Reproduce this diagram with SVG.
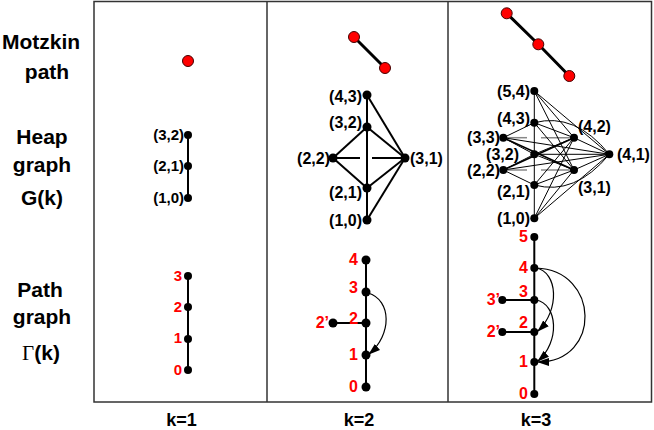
<svg xmlns="http://www.w3.org/2000/svg" width="654" height="430" viewBox="0 0 654 430">
<defs>
<style>
.lbl{font-family:"Liberation Sans",Arial,sans-serif;font-weight:bold;font-size:21px;fill:#000;text-anchor:middle}
.kl{font-family:"Liberation Sans",Arial,sans-serif;font-weight:bold;font-size:18px;fill:#000;text-anchor:middle}
.hl{font-family:"Liberation Sans",Arial,sans-serif;font-weight:bold;font-size:16px;fill:#000}
.hl1{font-family:"Liberation Sans",Arial,sans-serif;font-weight:bold;font-size:15px;fill:#000;text-anchor:end}
.rl{font-family:"Liberation Sans",Arial,sans-serif;font-weight:bold;font-size:16px;fill:#f00;text-anchor:end}
.rl1{font-family:"Liberation Sans",Arial,sans-serif;font-weight:bold;font-size:15px;fill:#f00;text-anchor:end}
.end{text-anchor:end}
.nd{fill:#000}
.rd{fill:#f00;stroke:#400;stroke-width:1}
.e2{stroke:#000;stroke-width:2;fill:none}
.e3{stroke:#000;stroke-width:1;fill:none}
.ex{stroke:#000;stroke-width:1.6;fill:none}
.eg{stroke:#888;stroke-width:1.5;fill:none}
.mp{stroke:#000;stroke-width:3;fill:none}
.arc{stroke:#000;stroke-width:1.2;fill:none;marker-end:url(#ah)}
</style>
<marker id="ah" markerWidth="12" markerHeight="8" refX="11" refY="4" orient="auto" markerUnits="userSpaceOnUse">
<path d="M0,0 L12,4 L0,8 Z" fill="#000"/>
</marker>
</defs>
<rect width="654" height="430" fill="#fff"/>
<g id="frame" fill="none" stroke="#333" stroke-width="1.5">
<rect x="94" y="1.5" width="557.5" height="400.5"/>
<line x1="267" y1="1.5" x2="267" y2="402"/>
<line x1="448" y1="1.5" x2="448" y2="402"/>
</g>
<g id="row-labels">
<text class="lbl" x="41" y="49">Motzkin</text>
<text class="lbl" x="47" y="79">path</text>
<text class="lbl" x="42" y="144">Heap</text>
<text class="lbl" x="42" y="172">graph</text>
<text class="lbl" x="42" y="205">G(k)</text>
<text class="lbl" x="40" y="297">Path</text>
<text class="lbl" x="42" y="324">graph</text>
<text class="lbl" x="41" y="360"><tspan font-family="Liberation Serif,serif" font-weight="normal">Γ</tspan>(k)</text>
</g>
<g id="col-labels">
<text class="kl" x="181.5" y="426">k=1</text>
<text class="kl" x="359" y="426">k=2</text>
<text class="kl" x="536" y="426">k=3</text>
</g>
<g id="connectors">
<line class="mp" x1="354" y1="37" x2="385" y2="68"/>
<polyline class="mp" points="506.7,13.3 538.3,44.3 569.3,76"/>
<line class="e2" x1="188" y1="135" x2="188" y2="198"/>
<line class="e2" x1="188" y1="276" x2="188" y2="370"/>
<line class="e2" x1="367" y1="95" x2="367" y2="220"/>
<line class="e2" x1="367" y1="95" x2="405" y2="158"/>
<line class="e2" x1="367" y1="127" x2="405" y2="158"/>
<line class="e2" x1="367" y1="188" x2="405" y2="158"/>
<line class="e2" x1="367" y1="220" x2="405" y2="158"/>
<line class="e2" x1="333" y1="158" x2="367" y2="127"/>
<line class="e2" x1="333" y1="158" x2="367" y2="188"/>
<line class="e2" x1="333" y1="158" x2="360" y2="158"/>
<line class="e2" x1="372" y1="158" x2="405" y2="158"/>
<line class="e2" x1="366" y1="260" x2="366" y2="387"/>
<line class="e2" x1="333" y1="323" x2="366" y2="323"/>
<path class="arc" d="M368,293 C392,300 392,335 369,354"/>
<line class="e3" x1="534.3" y1="91" x2="534.3" y2="218.3"/>
<line class="eg" x1="503.3" y1="137.7" x2="527" y2="137.7"/>
<line class="eg" x1="541" y1="137.7" x2="574" y2="137.7"/>
<line class="eg" x1="503.3" y1="170" x2="527" y2="170"/>
<line class="eg" x1="541" y1="170" x2="574" y2="170"/>
<line class="e3" x1="534.3" y1="91" x2="609.3" y2="154.3"/>
<line class="e3" x1="534.3" y1="91" x2="574" y2="137.7"/>
<line class="e3" x1="534.3" y1="91" x2="574" y2="170"/>
<line class="e3" x1="534.3" y1="218.3" x2="609.3" y2="154.3"/>
<line class="e3" x1="534.3" y1="218.3" x2="574" y2="170"/>
<line class="e3" x1="534.3" y1="218.3" x2="574" y2="137.7"/>
<path class="e3" d="M534.3,122.7 Q575,112 609.3,154.3"/>
<path class="e3" d="M534.3,185 Q575,196 609.3,154.3"/>
<line class="e3" x1="534.3" y1="122.7" x2="574" y2="137.7"/>
<line class="e3" x1="534.3" y1="122.7" x2="574" y2="170"/>
<line class="e3" x1="534.3" y1="185" x2="574" y2="170"/>
<line class="e3" x1="534.3" y1="185" x2="574" y2="137.7"/>
<line class="e3" x1="534.3" y1="154.3" x2="574" y2="137.7"/>
<line class="e3" x1="534.3" y1="154.3" x2="574" y2="170"/>
<line class="e3" x1="534.3" y1="154.3" x2="609.3" y2="154.3"/>
<line class="e3" x1="503.3" y1="137.7" x2="534.3" y2="122.7"/>
<line class="e3" x1="503.3" y1="137.7" x2="534.3" y2="154.3"/>
<line class="e3" x1="503.3" y1="170" x2="534.3" y2="154.3"/>
<line class="e3" x1="503.3" y1="170" x2="534.3" y2="185"/>
<line class="ex" x1="503.3" y1="137.7" x2="574" y2="170"/>
<line class="ex" x1="503.3" y1="170" x2="574" y2="137.7"/>
<line class="e3" x1="503.3" y1="137.7" x2="609.3" y2="154.3"/>
<line class="e3" x1="503.3" y1="170" x2="609.3" y2="154.3"/>
<line class="e3" x1="574" y1="137.7" x2="609.3" y2="154.3"/>
<line class="e3" x1="574" y1="170" x2="609.3" y2="154.3"/>
<line class="e2" x1="534.3" y1="237" x2="534.3" y2="394"/>
<line class="e2" x1="502.3" y1="300" x2="534.3" y2="300"/>
<line class="e2" x1="502.3" y1="332" x2="534.3" y2="332"/>
<path class="arc" d="M536,268 C558,272 560,310 538,331"/>
<path class="arc" d="M536,300 C558,304 560,342 538,361"/>
<path class="arc" d="M536,268 C600,270 602,362 538,362"/>
</g>
<g id="k1-motzkin"><circle class="rd" cx="188" cy="61" r="5.5"/></g>
<g id="k2-motzkin"><circle class="rd" cx="354" cy="37" r="5.5"/><circle class="rd" cx="385" cy="68" r="5.5"/></g>
<g id="k3-motzkin"><circle class="rd" cx="506.7" cy="13.3" r="5.5"/><circle class="rd" cx="538.3" cy="44.3" r="5.5"/><circle class="rd" cx="569.3" cy="76" r="5.5"/></g>
<g id="k1-heap">
<circle class="nd" cx="188" cy="135" r="4"/><text class="hl1" x="184" y="140">(3,2)</text>
<circle class="nd" cx="188" cy="166" r="4"/><text class="hl1" x="184" y="171">(2,1)</text>
<circle class="nd" cx="188" cy="198" r="4"/><text class="hl1" x="184" y="203">(1,0)</text>
</g>
<g id="k1-path">
<circle class="nd" cx="188" cy="276" r="4"/><text class="rl1" x="182" y="281">3</text>
<circle class="nd" cx="188" cy="307" r="4"/><text class="rl1" x="182" y="312">2</text>
<circle class="nd" cx="188" cy="339" r="4"/><text class="rl1" x="182" y="343">1</text>
<circle class="nd" cx="188" cy="370" r="4"/><text class="rl1" x="182" y="375">0</text>
</g>
<g id="k2-heap">
<circle class="nd" cx="367" cy="95" r="4.5"/><text class="hl end" x="362" y="102">(4,3)</text>
<circle class="nd" cx="367" cy="127" r="4.5"/><text class="hl end" x="362" y="128">(3,2)</text>
<circle class="nd" cx="333" cy="158" r="4.5"/><text class="hl end" x="330" y="164">(2,2)</text>
<circle class="nd" cx="405" cy="158" r="4.5"/><text class="hl" x="410" y="164">(3,1)</text>
<circle class="nd" cx="367" cy="188" r="4.5"/><text class="hl end" x="362" y="198">(2,1)</text>
<circle class="nd" cx="367" cy="220" r="4.5"/><text class="hl end" x="362" y="226">(1,0)</text>
</g>
<g id="k2-path">
<circle class="nd" cx="366" cy="260" r="4.5"/><text class="rl" x="358" y="265">4</text>
<circle class="nd" cx="366" cy="292" r="4.5"/><text class="rl" x="358" y="293">3</text>
<circle class="nd" cx="366" cy="323" r="4.5"/><text class="rl" x="358" y="324">2</text>
<circle class="nd" cx="333" cy="323" r="4.5"/><text class="rl" x="329" y="328">2’</text>
<circle class="nd" cx="366" cy="355" r="4.5"/><text class="rl" x="358" y="360">1</text>
<circle class="nd" cx="366" cy="387" r="4.5"/><text class="rl" x="358" y="392">0</text>
</g>
<g id="k3-heap">
<circle class="nd" cx="534.3" cy="91" r="4"/><text class="hl end" x="530" y="97">(5,4)</text>
<circle class="nd" cx="534.3" cy="122.7" r="4"/><text class="hl end" x="530" y="124">(4,3)</text>
<circle class="nd" cx="503.3" cy="137.7" r="4"/><text class="hl end" x="500" y="143">(3,3)</text>
<circle class="nd" cx="534.3" cy="154.3" r="4"/><text class="hl end" x="519" y="160">(3,2)</text>
<circle class="nd" cx="503.3" cy="170" r="4"/><text class="hl end" x="500" y="176">(2,2)</text>
<circle class="nd" cx="534.3" cy="185" r="4"/><text class="hl end" x="530" y="197">(2,1)</text>
<circle class="nd" cx="534.3" cy="218.3" r="4"/><text class="hl end" x="530" y="224">(1,0)</text>
<circle class="nd" cx="574" cy="137.7" r="4"/><text class="hl" x="578" y="132">(4,2)</text>
<circle class="nd" cx="574" cy="170" r="4"/><text class="hl" x="578" y="193">(3,1)</text>
<circle class="nd" cx="609.3" cy="154.3" r="4"/><text class="hl" x="617" y="160">(4,1)</text>
</g>
<g id="k3-path">
<circle class="nd" cx="534.3" cy="237" r="4"/><text class="rl" x="528" y="242">5</text>
<circle class="nd" cx="534.3" cy="268" r="4"/><text class="rl" x="528" y="273">4</text>
<circle class="nd" cx="534.3" cy="300" r="4"/><text class="rl" x="528" y="297">3</text>
<circle class="nd" cx="502.3" cy="300" r="4"/><text class="rl" x="500" y="305">3’</text>
<circle class="nd" cx="534.3" cy="332" r="4"/><text class="rl" x="528" y="328">2</text>
<circle class="nd" cx="502.3" cy="332" r="4"/><text class="rl" x="500" y="337">2’</text>
<circle class="nd" cx="534.3" cy="362" r="4"/><text class="rl" x="528" y="367">1</text>
<circle class="nd" cx="534.3" cy="394" r="4"/><text class="rl" x="528" y="399">0</text>
</g>
</svg>
